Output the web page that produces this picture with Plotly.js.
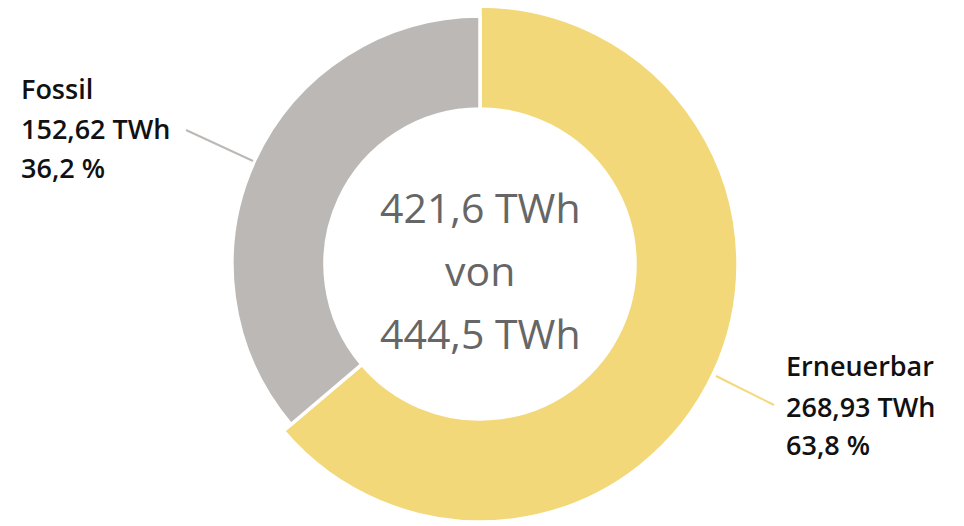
<!DOCTYPE html>
<html>
<head>
<meta charset="utf-8">
<script src="https://cdn.plot.ly/plotly-3.0.1.min.js"></script>
<style>html,body{margin:0;padding:0;background:#fff;}#chart{width:964px;height:526px;}</style>
</head>
<body>
<div id="chart"></div>
<script>
const categories = ["Erneuerbar", "Fossil"];
const valuesTWh = [268.93, 152.62];
const percentLabels = ["63,8 %", "36,2 %"];
const valueLabels = ["268,93 TWh", "152,62 TWh"];
const centerLines = ["421,6 TWh", "von", "444,5 TWh"];
const colors = ["#F2D879", "#BCB8B5"];

const W = 964, H = 526;
const px = x => x / W;
const py = y => 1 - y / H;

// center of donut & radii (pixels)
const cx = 480, cy = 264, rIn = 155;
const rOuter = [258, 248];

function domainFor(r) {
  return {x: [px(cx - r), px(cx + r)], y: [py(cy + r), py(cy - r)]};
}

const traces = [0, 1].map(i => ({
  type: "pie",
  labels: categories,
  values: valuesTWh,
  sort: false,
  direction: "clockwise",
  rotation: 0,
  hole: rIn / rOuter[i],
  domain: domainFor(rOuter[i]),
  textinfo: "none",
  hoverinfo: "label+value+percent",
  showlegend: false,
  marker: {
    colors: categories.map((c, j) => j === i ? colors[j] : "rgba(0,0,0,0)"),
    line: {color: "#ffffff", width: categories.map((c, j) => j === i ? 3.5 : 0)}
  }
}));

const labelFont = {family: "Open Sans, DejaVu Sans, sans-serif", size: 27, color: "#111", weight: 600};
const centerFont = {family: "Open Sans, DejaVu Sans, sans-serif", size: 41, color: "#666"};

const annotations = [];
// Fossil block (left)
[categories[1], valueLabels[1], percentLabels[1]].forEach((t, k) => {
  annotations.push({text: t, x: px(19), y: py([88, 129, 167][k]), xref: "paper", yref: "paper",
    xanchor: "left", yanchor: "middle", showarrow: false, font: labelFont});
});
// Erneuerbar block (right)
[categories[0], valueLabels[0], percentLabels[0]].forEach((t, k) => {
  annotations.push({text: t, x: px(784), y: py([365, 406, 444][k]), xref: "paper", yref: "paper",
    xanchor: "left", yanchor: "middle", showarrow: false, font: labelFont});
});
// Center text
centerLines.forEach((t, k) => {
  annotations.push({text: t, x: px(cx), y: py([207, 270, 333][k]), xref: "paper", yref: "paper",
    xanchor: "center", yanchor: "middle", showarrow: false, font: centerFont});
});

const shapes = [
  {type: "line", xref: "paper", yref: "paper", x0: px(186), y0: py(130), x1: px(253), y1: py(161),
   line: {color: "#BCB8B5", width: 2}},
  {type: "line", xref: "paper", yref: "paper", x0: px(716), y0: py(376), x1: px(774), y1: py(405),
   line: {color: "#F2D879", width: 2}}
];

const layout = {
  width: W, height: H,
  margin: {l: 0, r: 0, t: 0, b: 0},
  paper_bgcolor: "#ffffff",
  plot_bgcolor: "#ffffff",
  showlegend: false,
  annotations: annotations,
  shapes: shapes
};

Plotly.newPlot("chart", traces, layout, {displayModeBar: false, staticPlot: true});
</script>
</body>
</html>
